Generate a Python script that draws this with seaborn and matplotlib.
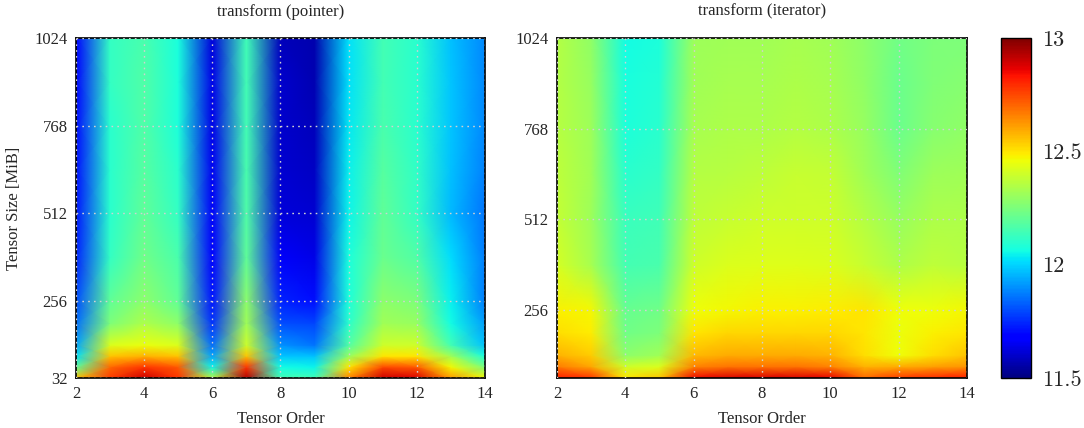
import numpy as np
import matplotlib
matplotlib.use("Agg")
import matplotlib.pyplot as plt
import seaborn as sns

# tensor orders (columns) and tensor sizes in MiB (rows, bottom to top)
orders = [2, 3, 4, 5, 6, 7, 8, 9, 10, 11, 12, 13, 14]
sizes_pointer = [32, 64, 96, 128, 192, 256, 384, 512, 640, 768, 896, 1024]
sizes_iterator = [64, 96, 128, 192, 256, 384, 512, 640, 768, 896, 1024]

# values (colour scale 11.5 .. 13)
pointer_values = [
    [12.55, 12.77, 12.90, 12.78, 12.35, 12.93, 12.15, 12.15, 12.66, 12.90, 12.88, 12.62, 12.47],
    [12.20, 12.70, 12.78, 12.72, 12.05, 12.78, 12.06, 12.05, 12.50, 12.75, 12.72, 12.47, 12.25],
    [12.02, 12.55, 12.58, 12.55, 11.93, 12.55, 11.98, 11.97, 12.30, 12.50, 12.50, 12.32, 12.07],
    [11.93, 12.42, 12.45, 12.42, 11.85, 12.40, 11.90, 11.86, 12.17, 12.40, 12.40, 12.15, 11.97],
    [11.85, 12.25, 12.34, 12.28, 11.76, 12.32, 11.80, 11.79, 12.10, 12.32, 12.30, 12.06, 11.92],
    [11.80, 12.20, 12.28, 12.20, 11.72, 12.28, 11.74, 11.71, 12.08, 12.28, 12.25, 12.04, 11.87],
    [11.74, 12.12, 12.23, 12.16, 11.68, 12.20, 11.66, 11.64, 12.07, 12.22, 12.17, 12.01, 11.87],
    [11.72, 12.10, 12.20, 12.12, 11.66, 12.17, 11.62, 11.61, 12.05, 12.20, 12.12, 11.96, 11.86],
    [11.71, 12.10, 12.18, 12.10, 11.65, 12.16, 11.61, 11.59, 12.04, 12.18, 12.11, 11.97, 11.88],
    [11.70, 12.10, 12.17, 12.08, 11.64, 12.15, 11.60, 11.58, 12.03, 12.16, 12.10, 11.98, 11.89],
    [11.69, 12.12, 12.17, 12.08, 11.64, 12.15, 11.60, 11.57, 12.02, 12.15, 12.10, 11.98, 11.89],
    [11.68, 12.12, 12.16, 12.07, 11.62, 12.14, 11.58, 11.56, 12.02, 12.15, 12.10, 11.97, 11.89],
]

iterator_values = [
    [12.82, 12.78, 12.50, 12.55, 12.85, 12.88, 12.88, 12.88, 12.86, 12.70, 12.77, 12.80, 12.82],
    [12.67, 12.60, 12.40, 12.42, 12.66, 12.68, 12.68, 12.68, 12.66, 12.58, 12.59, 12.61, 12.63],
    [12.58, 12.54, 12.28, 12.32, 12.57, 12.59, 12.59, 12.59, 12.58, 12.51, 12.46, 12.51, 12.55],
    [12.51, 12.49, 12.23, 12.25, 12.50, 12.52, 12.52, 12.52, 12.52, 12.50, 12.45, 12.48, 12.50],
    [12.48, 12.47, 12.21, 12.23, 12.46, 12.47, 12.48, 12.48, 12.49, 12.50, 12.46, 12.46, 12.47],
    [12.41, 12.33, 12.15, 12.16, 12.40, 12.42, 12.43, 12.43, 12.42, 12.39, 12.34, 12.37, 12.36],
    [12.38, 12.31, 12.13, 12.14, 12.37, 12.39, 12.40, 12.40, 12.40, 12.35, 12.30, 12.34, 12.34],
    [12.37, 12.32, 12.10, 12.12, 12.35, 12.36, 12.37, 12.39, 12.38, 12.32, 12.26, 12.31, 12.32],
    [12.36, 12.31, 12.08, 12.10, 12.33, 12.34, 12.34, 12.35, 12.34, 12.30, 12.22, 12.27, 12.29],
    [12.35, 12.30, 12.07, 12.09, 12.32, 12.33, 12.33, 12.34, 12.33, 12.29, 12.22, 12.26, 12.27],
    [12.35, 12.29, 12.06, 12.08, 12.31, 12.32, 12.32, 12.33, 12.32, 12.28, 12.23, 12.25, 12.25],
]

x_ticks = [2, 4, 6, 8, 10, 12, 14]
y_ticks_pointer = [32, 256, 512, 768, 1024]
y_ticks_iterator = [256, 512, 768, 1024]
cbar_ticks = [11.5, 12, 12.5, 13]
cbar_labels = ["11.5", "12", "12.5", "13"]
v_min, v_max = 11.5, 13

sns.set_theme(style="white")
plt.rcParams["font.family"] = ["Liberation Serif", "DejaVu Serif"]

# seaborn refuses to hand out jet, so take it from matplotlib
cmap = matplotlib.colormaps["jet"]

fig = plt.figure(figsize=(10.84, 4.28), dpi=100)
ax_l = fig.add_axes([0.0701, 0.1168, 0.3773, 0.7944])
ax_r = fig.add_axes([0.5138, 0.1168, 0.3782, 0.7944])
cax = fig.add_axes([0.9235, 0.1168, 0.0277, 0.7944])


def draw_panel(ax, sizes, values, title, yticks, ylabel=None):
    X, Y = np.meshgrid(orders, sizes)
    mesh = ax.pcolormesh(X, Y, np.array(values), shading="gouraud",
                         cmap=cmap, vmin=v_min, vmax=v_max)
    ax.set_xlim(orders[0], orders[-1])
    ax.set_ylim(sizes[0], sizes[-1])
    ax.set_xticks(x_ticks)
    ax.set_yticks(yticks)
    ax.tick_params(length=0, labelsize=12, pad=6)
    ax.set_axisbelow(False)
    ax.grid(True, color="0.82", linestyle=(0, (1.2, 3)), linewidth=1.0)
    for sp in ax.spines.values():
        sp.set_color("black")
        sp.set_linewidth(1.2)
    ax.set_title(title, fontsize=12, pad=16)
    ax.set_xlabel("Tensor Order", fontsize=12, labelpad=6)
    if ylabel:
        ax.set_ylabel(ylabel, fontsize=12, labelpad=9)
    return mesh


mesh = draw_panel(ax_l, sizes_pointer, pointer_values, "transform (pointer)",
                  y_ticks_pointer, "Tensor Size [MiB]")
draw_panel(ax_r, sizes_iterator, iterator_values, "transform (iterator)",
           y_ticks_iterator)

cb = fig.colorbar(mesh, cax=cax, ticks=cbar_ticks)
cb.ax.set_yticklabels(cbar_labels, fontfamily="cmr10", fontsize=16)
cb.ax.tick_params(direction="in", color="0.85", length=4, width=1,
                  left=True, right=True, pad=8)
cb.outline.set_edgecolor("black")
cb.outline.set_linewidth(1.0)

fig.savefig("out.png", dpi=100)
